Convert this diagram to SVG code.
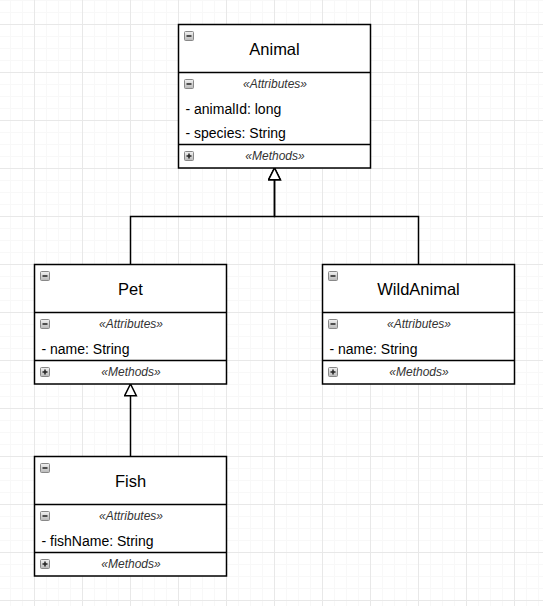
<svg xmlns="http://www.w3.org/2000/svg" width="543" height="606" viewBox="0 0 543 606">
<defs>
<pattern id="minor" x="10" y="0" width="12" height="12" patternUnits="userSpaceOnUse">
<path d="M0.5 0V12M0 0.5H12" fill="none" stroke="#f8f8f8" stroke-width="1"/>
</pattern>
<pattern id="major" x="34" y="24" width="48" height="48" patternUnits="userSpaceOnUse">
<path d="M0.5 0V48M0 0.5H48" fill="none" stroke="#e8e8e8" stroke-width="1"/>
</pattern>
<linearGradient id="ig" x1="0" y1="0" x2="0" y2="1">
<stop offset="0" stop-color="#f2f2f2"/>
<stop offset="1" stop-color="#b8b8b8"/>
</linearGradient>
<marker id="tri" markerUnits="userSpaceOnUse" markerWidth="14" markerHeight="14" refX="11" refY="6" orient="auto" viewBox="0 0 12 12">
<path d="M1 1L11 6L1 11Z" fill="#fff" stroke="#000" stroke-width="1.3"/>
</marker>
<g id="minusIcon">
<rect x="0.5" y="0.5" width="9" height="9" rx="1" fill="url(#ig)" stroke="#888" stroke-width="1"/>
<path d="M2.5 5H7.5" stroke="#222" stroke-width="1.5"/>
</g>
<g id="plusIcon">
<rect x="0.5" y="0.5" width="9" height="9" rx="1" fill="url(#ig)" stroke="#888" stroke-width="1"/>
<path d="M2.5 5H7.5M5 2.5V7.5" stroke="#222" stroke-width="1.5"/>
</g>
</defs>
<style>
.box{fill:#fff;stroke:#000;stroke-width:1.5}
.div{stroke:#000;stroke-width:1.5}
.title{font-family:"Liberation Sans",Arial,sans-serif;font-size:16.5px;fill:#000;text-anchor:middle}
.st{font-family:"Liberation Sans",Arial,sans-serif;font-size:12px;font-style:italic;fill:#333;text-anchor:middle}
.attr{font-family:"Liberation Sans",Arial,sans-serif;font-size:14px;fill:#000}
.edge{fill:none;stroke:#000;stroke-width:1.5}
</style>
<rect width="543" height="606" fill="#fff"/>
<rect width="543" height="606" fill="url(#minor)"/>
<rect width="543" height="606" fill="url(#major)"/>

<g id="connectors">
<path class="edge" d="M130.5 264V216.5H274.5V168" marker-end="url(#tri)"/>
<path class="edge" d="M418.5 264V216.5H274.5V168" marker-end="url(#tri)"/>
<path class="edge" d="M130.5 456V384" marker-end="url(#tri)"/>
</g>

<g id="Animal">
<rect class="box" x="178.5" y="24.5" width="192" height="143.5"/>
<line class="div" x1="178.5" y1="72.5" x2="370.5" y2="72.5"/>
<line class="div" x1="178.5" y1="144.5" x2="370.5" y2="144.5"/>
<use href="#minusIcon" x="184" y="31"/>
<text class="title" x="274.5" y="55">Animal</text>
<use href="#minusIcon" x="184" y="79"/>
<text class="st" x="275" y="88">«Attributes»</text>
<text class="attr" x="185.5" y="113.5">- animalId: long</text>
<text class="attr" x="185.5" y="137.5">- species: String</text>
<use href="#plusIcon" x="184" y="151"/>
<text class="st" x="275" y="160">«Methods»</text>
</g>

<g id="Pet">
<rect class="box" x="34.5" y="264.5" width="192" height="119.5"/>
<line class="div" x1="34.5" y1="312.5" x2="226.5" y2="312.5"/>
<line class="div" x1="34.5" y1="360.5" x2="226.5" y2="360.5"/>
<use href="#minusIcon" x="40" y="271"/>
<text class="title" x="130.5" y="295">Pet</text>
<use href="#minusIcon" x="40" y="319"/>
<text class="st" x="131" y="328">«Attributes»</text>
<text class="attr" x="41.5" y="353.5">- name: String</text>
<use href="#plusIcon" x="40" y="367"/>
<text class="st" x="131" y="376">«Methods»</text>
</g>

<g id="WildAnimal">
<rect class="box" x="322.5" y="264.5" width="192" height="119.5"/>
<line class="div" x1="322.5" y1="312.5" x2="514.5" y2="312.5"/>
<line class="div" x1="322.5" y1="360.5" x2="514.5" y2="360.5"/>
<use href="#minusIcon" x="328" y="271"/>
<text class="title" x="418.5" y="295">WildAnimal</text>
<use href="#minusIcon" x="328" y="319"/>
<text class="st" x="419" y="328">«Attributes»</text>
<text class="attr" x="329.5" y="353.5">- name: String</text>
<use href="#plusIcon" x="328" y="367"/>
<text class="st" x="419" y="376">«Methods»</text>
</g>

<g id="Fish">
<rect class="box" x="34.5" y="456.5" width="192" height="119.5"/>
<line class="div" x1="34.5" y1="504.5" x2="226.5" y2="504.5"/>
<line class="div" x1="34.5" y1="552.5" x2="226.5" y2="552.5"/>
<use href="#minusIcon" x="40" y="463"/>
<text class="title" x="130.5" y="487">Fish</text>
<use href="#minusIcon" x="40" y="511"/>
<text class="st" x="131" y="520">«Attributes»</text>
<text class="attr" x="41.5" y="545.5">- fishName: String</text>
<use href="#plusIcon" x="40" y="559"/>
<text class="st" x="131" y="568">«Methods»</text>
</g>
</svg>
